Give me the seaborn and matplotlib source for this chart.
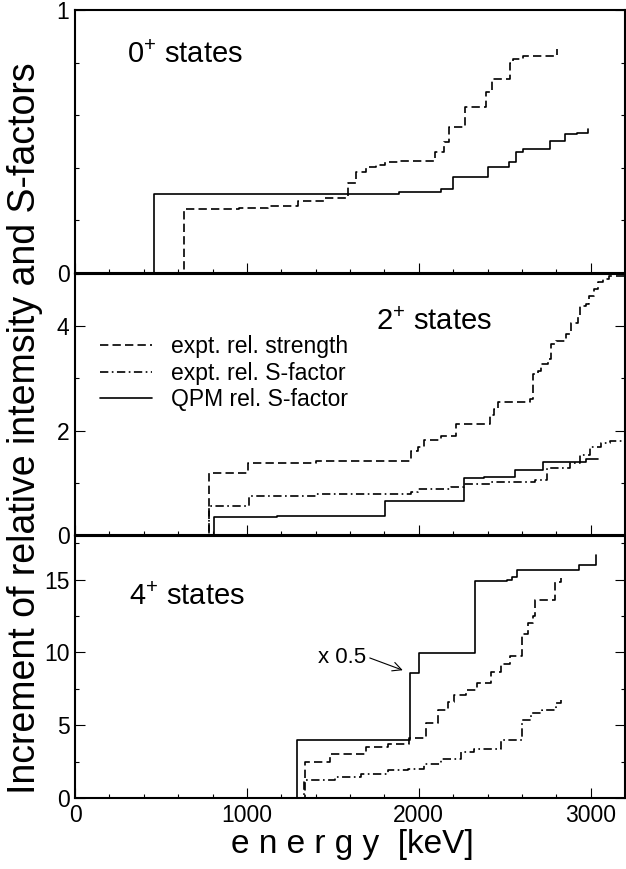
import numpy as np
import pandas as pd
import matplotlib
matplotlib.use("Agg")
import matplotlib.pyplot as plt
import seaborn as sns

# ---------------- data ----------------
# 0+ states
p0_qpm_x = [0, 459, 1887, 2132, 2199, 2401, 2526, 2564, 2609, 2762, 2848, 2920, 2982]
p0_qpm_y = [0, 0.299, 0.309, 0.319, 0.364, 0.402, 0.423, 0.461, 0.470, 0.503, 0.527, 0.533, 0.549]
p0_str_x = [0, 634, 955, 1125, 1300, 1447, 1589, 1637, 1695, 1753, 1801, 1878, 2093, 2147,
            2176, 2268, 2393, 2424, 2528, 2547, 2609, 2803]
p0_str_y = [0, 0.242, 0.246, 0.255, 0.275, 0.285, 0.341, 0.385, 0.404, 0.410, 0.423, 0.427,
            0.461, 0.497, 0.556, 0.632, 0.689, 0.736, 0.797, 0.812, 0.826, 0.850]

# 2+ states
p2_str_x = [0, 777, 1008, 1400, 1955, 1993, 2032, 2128, 2214, 2416, 2440, 2459, 2647, 2666,
            2695, 2714, 2753, 2772, 2801, 2859, 2888, 2926, 2941, 2974, 2993, 3022, 3041,
            3070, 3108, 3200]
p2_str_y = [0, 1.19, 1.385, 1.42, 1.60, 1.69, 1.82, 1.90, 2.13, 2.30, 2.42, 2.54, 2.60, 3.08,
            3.15, 3.28, 3.37, 3.66, 3.72, 3.85, 4.07, 4.20, 4.39, 4.42, 4.58, 4.71, 4.84,
            4.90, 4.97, 5.0]
p2_sf_x = [0, 777, 1012, 1400, 1954, 1993, 2186, 2263, 2416, 2675, 2748, 2880, 2940, 2996,
           3063, 3115, 3200]
p2_sf_y = [0, 0.556, 0.747, 0.78, 0.83, 0.875, 0.91, 0.97, 1.02, 1.05, 1.28, 1.37, 1.53, 1.68,
           1.77, 1.81, 1.83]
p2_qpm_x = [0, 810, 1176, 1801, 2263, 2378, 2560, 2724, 2878, 2974, 3040]
p2_qpm_y = [0, 0.34, 0.364, 0.65, 1.086, 1.12, 1.245, 1.39, 1.40, 1.455, 1.455]

# 4+ states
p4_qpm_x = [0, 1291, 1949, 1999, 2326, 2512, 2541, 2574, 2935, 3032]
p4_qpm_y = [0, 3.97, 8.6, 9.93, 14.93, 15.0, 15.2, 15.66, 16.0, 16.7]
p4_str_x = [0, 1339, 1483, 1695, 1820, 1941, 2040, 2112, 2173, 2204, 2276, 2337, 2419, 2480,
            2531, 2599, 2634, 2664, 2679, 2791, 2828]
p4_str_y = [0, 2.48, 3.05, 3.51, 3.74, 4.15, 5.16, 6.03, 6.6, 7.06, 7.45, 7.87, 8.67, 9.24,
            9.75, 11.26, 12.0, 12.5, 13.6, 14.86, 15.09]
p4_sf_x = [0, 1335, 1512, 1666, 1820, 1935, 2032, 2128, 2243, 2320, 2480, 2599, 2655, 2716,
           2797, 2828]
p4_sf_y = [0, 1.22, 1.45, 1.68, 1.9, 2.02, 2.37, 2.71, 3.16, 3.4, 3.97, 5.34, 5.85, 6.03,
           6.53, 6.7]

legend_labels = ["expt. rel. strength", "expt. rel. S-factor", "QPM rel. S-factor"]
panel_labels = ["0", "2", "4"]
x_ticks = [0, 1000, 2000, 3000]

# ---------------- style ----------------
sns.set_style("ticks")
plt.rcParams["font.family"] = ["Liberation Sans", "DejaVu Sans"]
plt.rcParams["mathtext.fontset"] = "custom"
plt.rcParams["mathtext.rm"] = "Liberation Sans"
plt.rcParams["mathtext.it"] = "Liberation Sans"
plt.rcParams["lines.scale_dashes"] = False
for k in ["text.color", "axes.labelcolor", "xtick.color", "ytick.color", "axes.edgecolor"]:
    plt.rcParams[k] = "black"

W, H = 626, 869
fig = plt.figure(figsize=(W / 100, H / 100), dpi=100)

def axes_px(top, bottom, left=75, right=625):
    return fig.add_axes([left / W, (H - bottom) / H, (right - left) / W, (bottom - top) / H])

ax0 = axes_px(10, 273)
ax2 = axes_px(274, 535)
ax4 = axes_px(536, 798)

DASH = (0, (6, 3))
DASHDOT = (0, (6, 2.5, 1.2, 2.5))
LW = 1.2

def step(ax, x, y, ls, label=None):
    df = pd.DataFrame({"x": x, "y": y})
    sns.lineplot(data=df, x="x", y="y", ax=ax, color="black", linewidth=LW,
                 linestyle=ls, drawstyle="steps-post", estimator=None, sort=False,
                 label=label, legend=False)

step(ax0, p0_str_x, p0_str_y, DASH)
step(ax0, p0_qpm_x, p0_qpm_y, "-")

step(ax2, p2_str_x, p2_str_y, DASH, legend_labels[0])
step(ax2, p2_sf_x, p2_sf_y, DASHDOT, legend_labels[1])
step(ax2, p2_qpm_x, p2_qpm_y, "-", legend_labels[2])

step(ax4, p4_str_x, p4_str_y, DASH)
step(ax4, p4_sf_x, p4_sf_y, DASHDOT)
step(ax4, p4_qpm_x, p4_qpm_y, "-")

ylims = [(0, 1), (0, 5), (0, 18)]
ymaj = [[0, 1], [0, 2, 4], [0, 5, 10, 15]]
ymin = [np.arange(0, 1.01, 0.2), np.arange(0, 5.01, 1), np.arange(0, 18.01, 2.5)]

for ax, yl, ma, mi in zip([ax0, ax2, ax4], ylims, ymaj, ymin):
    ax.set_xlim(0, 3200)
    ax.set_ylim(*yl)
    ax.set_xticks(x_ticks)
    ax.set_xticks(np.arange(0, 3201, 200), minor=True)
    ax.set_yticks(ma)
    ax.set_yticks(mi, minor=True)
    ax.set_xlabel("")
    ax.set_ylabel("")
    ax.tick_params(which="both", direction="in", left=True, right=True, bottom=True,
                   top=False, labelright=False, width=0.8, colors="black",
                   labelsize=16.5, pad=4)
    ax.tick_params(which="major", length=7.5)
    ax.tick_params(which="minor", length=3)
    for s in ax.spines.values():
        s.set_linewidth(1.5)
        s.set_color("black")
        s.set_visible(True)

ax0.tick_params(labelbottom=False)
ax2.tick_params(labelbottom=False)
ax4.set_xticklabels([str(t) for t in x_ticks])

# panel labels
ax0.text(300, 0.83, r"$\mathregular{%s^{+}}$ states" % panel_labels[0], fontsize=21,
         ha="left", va="center")
ax2.text(1750, 4.09, r"$\mathregular{%s^{+}}$ states" % panel_labels[1], fontsize=21,
         ha="left", va="center")
ax4.text(315, 13.8, r"$\mathregular{%s^{+}}$ states" % panel_labels[2], fontsize=21,
         ha="left", va="center")

# legend
h, l = ax2.get_legend_handles_labels()
leg = ax2.legend(h, l, loc="upper left", bbox_to_anchor=(0.045, 0.765), frameon=False,
                 fontsize=16.5, handlelength=2.3, handletextpad=0.8, labelspacing=0.15,
                 borderpad=0, borderaxespad=0)

# annotation
ax4.annotate("x 0.5", xy=(1907, 8.78), xytext=(1416, 9.68), fontsize=16,
             ha="left", va="center",
             arrowprops=dict(arrowstyle="->", color="black", lw=0.8,
                             relpos=(0.88, 0.62), shrinkA=0, shrinkB=0))

# axis labels
fig.text(25 / W, (H - 428) / H, "Increment of relative intemsity and S-factors",
         rotation=90, ha="center", va="center", fontsize=27)
fig.text(352 / W, (H - 845) / H, "e n e r g y  [keV]", ha="center", va="center",
         fontsize=24)

fig.savefig("out.png", dpi=100)
